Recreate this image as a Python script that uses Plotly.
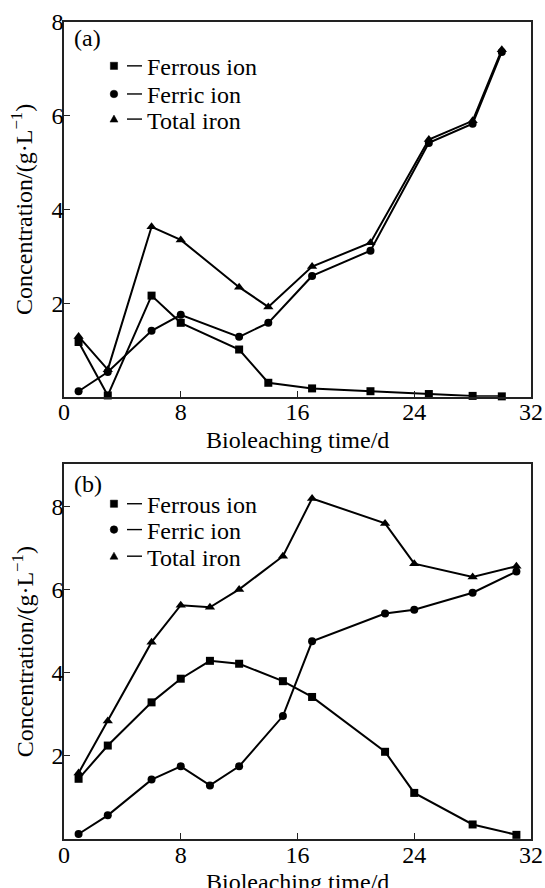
import plotly.graph_objects as go

# ---- data ----
days_a = [1, 3, 6, 8, 12, 14, 17, 21, 25, 28, 30]
ferrous_a = [1.17, 0.03, 2.16, 1.58, 1.01, 0.30, 0.18, 0.12, 0.06, 0.02, 0.01]
ferric_a = [0.12, 0.53, 1.41, 1.75, 1.28, 1.58, 2.58, 3.12, 5.42, 5.83, 7.36]
total_a = [1.29, 0.58, 3.63, 3.35, 2.34, 1.92, 2.78, 3.29, 5.49, 5.89, 7.41]

days_b = [1, 3, 6, 8, 10, 12, 15, 17, 22, 24, 28, 31]
ferrous_b = [1.45, 2.25, 3.29, 3.86, 4.29, 4.22, 3.80, 3.42, 2.10, 1.11, 0.35, 0.10]
ferric_b = [0.12, 0.57, 1.43, 1.75, 1.29, 1.75, 2.96, 4.76, 5.43, 5.52, 5.93, 6.44]
total_b = [1.59, 2.84, 4.74, 5.63, 5.58, 6.01, 6.81, 8.20, 7.60, 6.63, 6.31, 6.57]

series_names = ["Ferrous ion", "Ferric ion", "Total iron"]
x_ticks = [0, 8, 16, 24, 32]
y_ticks = [2, 4, 6, 8]
x_title = "Bioleaching time/d"
y_title = "Concentration/(g·L<sup>−1</sup>)"
panel_labels = ["(a)", "(b)"]

FONT = "Liberation Serif, Times New Roman, serif"
FS = 24
symbols = ["square", "circle", "triangle-up"]

fig = go.Figure()

panels = [
    ("x", "y", days_a, [ferrous_a, ferric_a, total_a]),
    ("x2", "y2", days_b, [ferrous_b, ferric_b, total_b]),
]
for xa, ya, days, ser in panels:
    for name, vals, sym in zip(series_names, ser, symbols):
        fig.add_trace(go.Scatter(
            x=days, y=vals, mode="lines+markers", name=name, showlegend=False,
            xaxis=xa, yaxis=ya, cliponaxis=False,
            line=dict(color="black", width=2),
            marker=dict(symbol=sym, color="black", size=8 if sym != "triangle-up" else 9),
        ))

axis_common = dict(
    showline=True, linecolor="#222", linewidth=1.5, mirror=True,
    ticks="inside", ticklen=6, tickwidth=1.3, tickcolor="#222",
    showgrid=False, zeroline=False, automargin=False,
    tickfont=dict(family=FONT, size=FS, color="black"),
)

fig.update_layout(
    template="none",
    width=545, height=888,
    margin=dict(l=64, r=14, t=21.7, b=49),
    paper_bgcolor="white", plot_bgcolor="white",
    font=dict(family=FONT, size=FS, color="black"),
    showlegend=False,
    xaxis=dict(axis_common, domain=[0, 1], range=[0, 32], tickvals=x_ticks, anchor="y",
               ticklabelstandoff=-7),
    yaxis=dict(axis_common, domain=[0.5412, 1], range=[0, 8], tickvals=y_ticks, anchor="x",
               ticklabelstandoff=-6),
    xaxis2=dict(axis_common, domain=[0, 1], range=[0, 32], tickvals=x_ticks, anchor="y2",
                ticklabelstandoff=-7),
    yaxis2=dict(axis_common, domain=[0, 0.4585], range=[0, 9.02], tickvals=y_ticks, anchor="x2",
                ticklabelstandoff=-6),
)

# axis titles as annotations (paper coordinates)
for ypos in (0.4882, -0.0526):
    fig.add_annotation(x=0.5, y=ypos, xref="paper", yref="paper", text=x_title,
                       showarrow=False, xanchor="center", yanchor="middle",
                       font=dict(family=FONT, size=FS))
for ycen in ((1 + 0.5412) / 2, 0.4585 / 2):
    fig.add_annotation(x=-0.0889, y=ycen, xref="paper", yref="paper", text=y_title,
                       textangle=-90, showarrow=False, xanchor="center", yanchor="middle",
                       font=dict(family=FONT, size=FS))

# ---- custom legends and panel labels ----
legend_rows = {
    ("x", "y"): [0.879, 0.804, 0.737],
    ("x2", "y2"): [0.891, 0.822, 0.751],
}
label_pos = {("x", "y"): 0.956, ("x2", "y2"): 0.947}
for (xa, ya), lab in zip(legend_rows.keys(), panel_labels):
    xr, yr = xa + " domain", ya + " domain"
    fig.add_annotation(x=0.0165, y=label_pos[(xa, ya)], xref=xr, yref=yr, text=lab,
                       showarrow=False, xanchor="left", yanchor="middle",
                       font=dict(family=FONT, size=FS))
    for name, sym, yy in zip(series_names, symbols, legend_rows[(xa, ya)]):
        mx = 0.107
        ym = yy + 0.004
        if sym == "square":
            fig.add_shape(type="rect", xref=xr, yref=yr, xsizemode="pixel", ysizemode="pixel",
                          xanchor=mx, yanchor=ym, x0=-3.6, x1=3.6, y0=-3.6, y1=3.6,
                          fillcolor="black", line=dict(color="black", width=0.5))
        elif sym == "circle":
            fig.add_shape(type="circle", xref=xr, yref=yr, xsizemode="pixel", ysizemode="pixel",
                          xanchor=mx, yanchor=ym, x0=-3.8, x1=3.8, y0=-3.8, y1=3.8,
                          fillcolor="black", line=dict(color="black", width=0.5))
        else:
            fig.add_shape(type="path", path="M -4,-3 L 4,-3 L 0,4 Z", xref=xr, yref=yr,
                          xsizemode="pixel", ysizemode="pixel", xanchor=mx, yanchor=ym,
                          fillcolor="black", line=dict(color="black", width=0.5))
        fig.add_shape(type="line", xref=xr, yref=yr, x0=0.1349, x1=0.167,
                      y0=ym, y1=ym, line=dict(color="black", width=1.4))
        fig.add_annotation(x=0.1734, y=yy, xref=xr, yref=yr, text=name, showarrow=False,
                           xanchor="left", yanchor="middle", font=dict(family=FONT, size=FS))

fig.write_html("out.html", config={"displayModeBar": False},
               post_script="document.body.style.margin='0';document.body.style.overflow='hidden';")
